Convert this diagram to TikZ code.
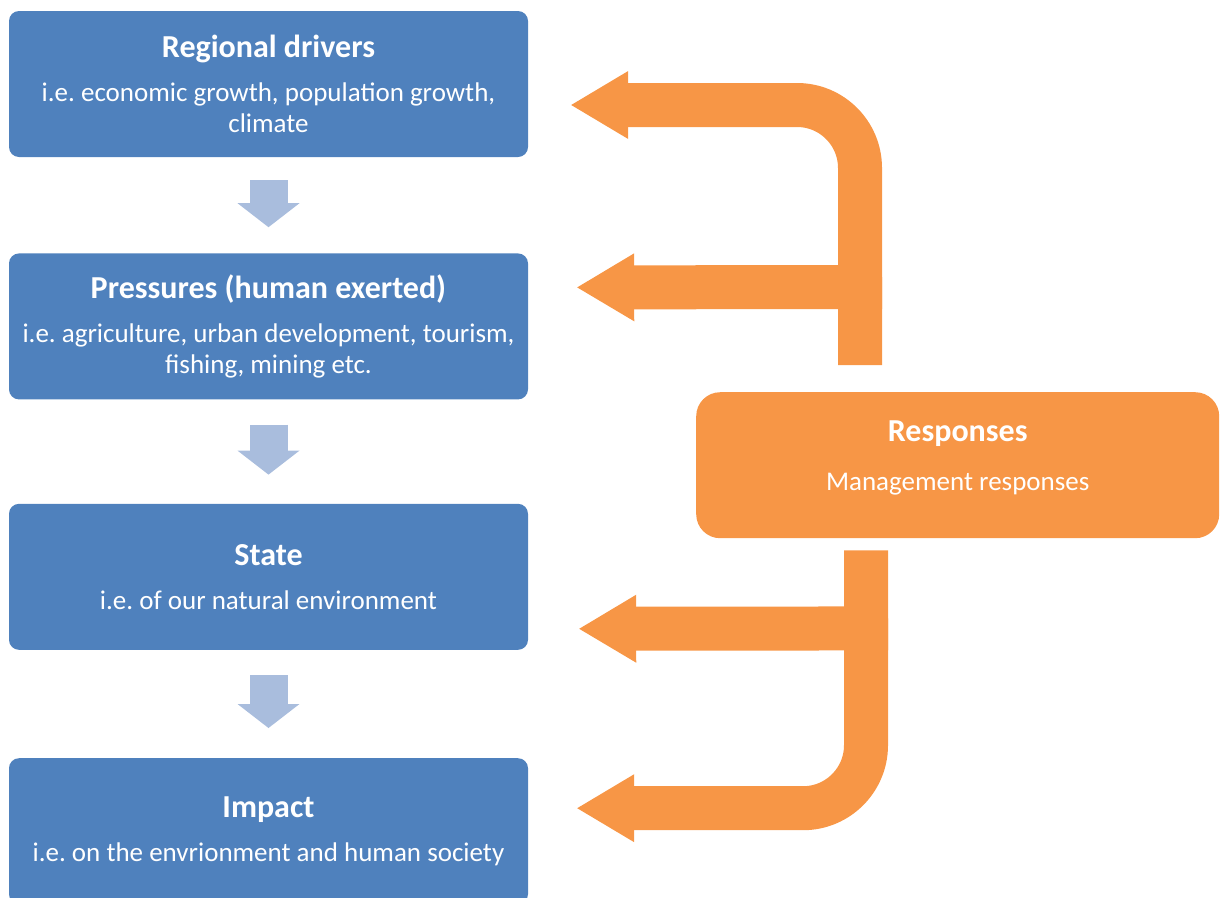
\documentclass[tikz,border=0pt]{standalone}
\usepackage{fontspec}
\setmainfont{Carlito}
\usetikzlibrary{arrows.meta,positioning,calc}
\definecolor{boxblue}{HTML}{4F81BD}
\definecolor{stepblue}{HTML}{A9BDDD}
\definecolor{respond}{HTML}{F79646}
\newcommand{\boxtitle}[1]{{\fontsize{32}{36}\selectfont\bfseries #1}}
\frenchspacing

\begin{document}
\begin{tikzpicture}[
  x=1pt, y=-1pt,
  every node/.style={font=\fontsize{27}{31}\selectfont, text=white},
  stage/.style={
    fill=boxblue, rounded corners=10pt,
    minimum width=519pt, minimum height=146pt, align=center,
    inner sep=0pt
  },
  respbox/.style={
    fill=respond, rounded corners=24pt,
    minimum width=523pt, minimum height=146pt, inner sep=0pt
  },
  down/.style={draw=stepblue, line width=38pt,
    -{Triangle[length=24pt, width=62pt, line width=0pt]}},
  feed/.style={draw=respond, line width=44pt, rounded corners=63pt,
    -{Triangle[length=57pt, width=68pt, line width=0pt]}}
]
  \clip (0,0) rectangle (1220,897);

  \node[stage] (drivers) at (268.5,84)
    {\boxtitle{Regional drivers}\\[13pt]i.e. economic growth, population growth,\\climate};
  \node[stage, below=96pt of drivers] (pressures)
    {\boxtitle{Pressures (human exerted)}\\[13pt]i.e. agriculture, urban development, tourism,\\fishing, mining etc.};
  \node[stage, below=104pt of pressures] (state)
    {\boxtitle{State}\\[13pt]i.e. of our natural environment};
  \node[stage, below=108pt of state] (impact)
    {\boxtitle{Impact}\\[13pt]i.e. on the envrionment and human society};

  \node[respbox, anchor=north west] (resp) at (696,392) {};
  \node[align=center] (resptext) at ([yshift=7pt]resp.center)
    {\boxtitle{Responses}\\[18pt]Management responses};

  \draw[down] ([yshift=-23pt]drivers.south) -- ([yshift=26pt]pressures.north);
  \draw[down] ([yshift=-25pt]pressures.south) -- ([yshift=29pt]state.north);
  \draw[down] ([yshift=-25pt]state.south) -- ([yshift=30pt]impact.north);

  \coordinate (upper rail) at ($(resp.north west)+(164,-27)$);
  \coordinate (lower rail) at ($(resp.south west)+(170,12)$);

  \draw[feed] (upper rail) |- ($(drivers.east)+(43,21)$);
  \draw[feed] ($(upper rail)+(22,-78)$) -- ($(pressures.east)+(49,-39)$);
  \draw[feed] ($(lower rail)+(22,78)$) -- ($(state.east)+(51,52)$);
  \draw[feed] (lower rail) |- ($(impact.east)+(49,-23)$);
\end{tikzpicture}
\end{document}
